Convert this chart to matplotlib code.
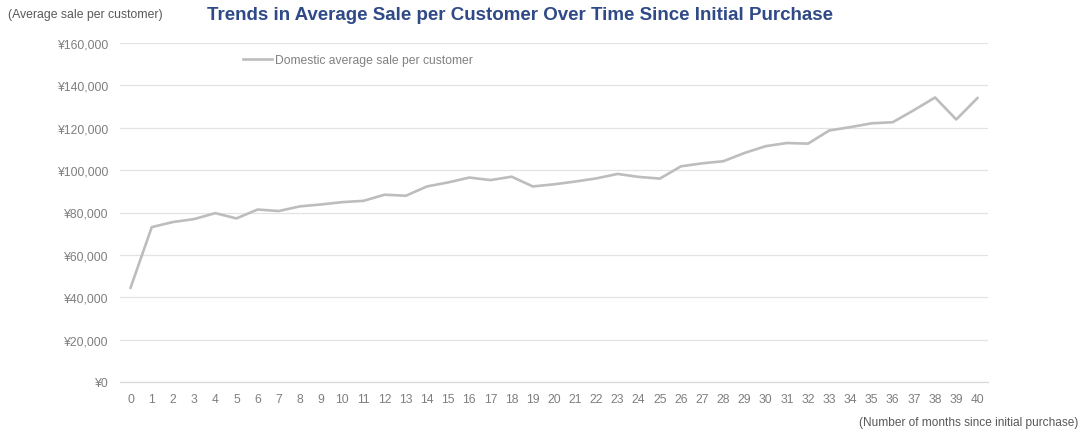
import matplotlib
matplotlib.use("Agg")
import matplotlib.pyplot as plt
from matplotlib.ticker import FuncFormatter

plt.rcParams['font.family'] = ['Liberation Sans', 'DejaVu Sans']

months = list(range(41))
avg_sale = [
    44500, 73100, 75500, 76900, 79700, 77200, 81400, 80700, 82900, 83800,
    84900, 85500, 88400, 87900, 92300, 94200, 96500, 95300, 96900, 92300,
    93300, 94600, 96100, 98200, 96800, 96000, 101800, 103200, 104200, 108100,
    111300, 112800, 112500, 118700, 120300, 122100, 122600, 128300, 134300, 123900,
    134000,
]
series_label = "Domestic average sale per customer"
title = "Trends in Average Sale per Customer Over Time Since Initial Purchase"
y_caption = "(Average sale per customer)"
x_caption = "(Number of months since initial purchase)"
y_ticks = [0, 20000, 40000, 60000, 80000, 100000, 120000, 140000, 160000]

W, H = 1084, 435
fig = plt.figure(figsize=(W / 100, H / 100), dpi=100)
ax = fig.add_axes([120 / W, 1 - 383 / H, 868 / W, 339 / H])

text_gray = "#7F7F7F"
grid_gray = "#E3E3E3"

ax.plot(months, avg_sale, color="#BDBDBD", linewidth=1.9, label=series_label,
        solid_joinstyle="round", zorder=3)

ax.set_xlim(-0.5, 40.5)
ax.set_ylim(0, 160000)
ax.set_xticks(months)
ax.set_yticks(y_ticks)
ax.yaxis.set_major_formatter(FuncFormatter(lambda v, _: f"¥{int(v):,}"))
ax.grid(axis="y", color=grid_gray, linewidth=0.9)
ax.grid(axis="x", visible=False)
for side in ("top", "right", "left"):
    ax.spines[side].set_visible(False)
ax.spines["bottom"].set_color("#D9D9D9")
ax.spines["bottom"].set_linewidth(0.9)
ax.tick_params(axis="both", length=0, labelsize=8.7, labelcolor=text_gray)
ax.tick_params(axis="x", pad=8)
ax.tick_params(axis="y", pad=8)

leg = ax.legend(loc="center left", bbox_to_anchor=(123 / 868, (383 - 61) / 339),
                frameon=False, fontsize=8.7, handlelength=2.4, handletextpad=0.25,
                borderpad=0, borderaxespad=0)
for t in leg.get_texts():
    t.set_color("#808080")

fig.text(8 / W, 1 - 15 / H, y_caption, fontsize=8.8, color="#595959",
         ha="left", va="center")
fig.text(520 / W, 1 - 15 / H, title, fontsize=13.5, fontweight="bold",
         color="#2F4A87", ha="center", va="center")
fig.text(1078 / W, 1 - 423 / H, x_caption, fontsize=8.6, color="#595959",
         ha="right", va="center")

fig.savefig("out.png", dpi=100, facecolor="white")
